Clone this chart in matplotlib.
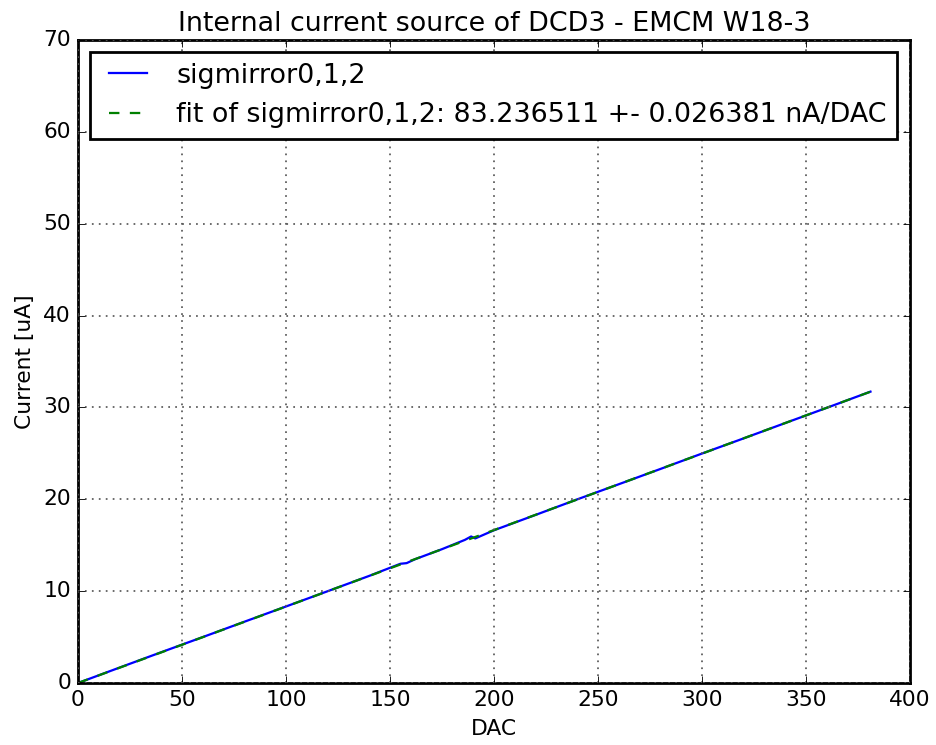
import numpy as np
import matplotlib
matplotlib.use("Agg")
import matplotlib.pyplot as plt

# Measured DCD3 current-source scan (sampled along the DAC range)
dac_meas = [0, 20, 40, 60, 80, 100, 120, 140, 155, 158, 162, 175, 186, 189, 191,
            200, 220, 240, 260, 280, 300, 320, 340, 360, 381]
current_meas = [0.0, 1.68, 3.35, 5.00, 6.67, 8.33, 9.99, 11.66, 12.98, 13.05, 13.47,
                14.57, 15.58, 15.95, 15.74, 16.63, 18.30, 19.99, 21.64, 23.30,
                24.98, 26.63, 28.30, 29.96, 31.72]

# Linear fit result
fit_slope_nA = 83.236511
fit_slope_err_nA = 0.026381
fit_offset_uA = 0.0
fit_dac_range = [0, 381]

series_name = "sigmirror0,1,2"

plt.style.use("classic")
plt.rcParams["font.family"] = ["DejaVu Sans"]

dpi = 125
fig = plt.figure(figsize=(936 / dpi, 745 / dpi), dpi=dpi, facecolor="white")
ax = fig.add_axes([78 / 936, 1 - 683 / 745, (910 - 78) / 936, (683 - 40) / 745])
ax.set_facecolor("white")

ax.plot(dac_meas, current_meas, "b-", lw=1.3, label=series_name)
fit_x = np.array(fit_dac_range, dtype=float)
fit_y = fit_offset_uA + fit_slope_nA * 1e-3 * fit_x
ax.plot(fit_x, fit_y, "g--", lw=1.3,
        label="fit of %s: %f +- %f nA/DAC" % (series_name, fit_slope_nA, fit_slope_err_nA))

ax.set_xlim(0, 400)
ax.set_ylim(0, 70)
ax.set_xticks(np.arange(0, 401, 50))
ax.set_yticks(np.arange(0, 71, 10))
ax.tick_params(labelsize=12.5)
ax.grid(True, color="0.35", linestyle=":", linewidth=1.0)
for s in ax.spines.values():
    s.set_linewidth(1.6)

ax.set_title("Internal current source of DCD3 - EMCM W18-3", fontsize=15.5)
ax.set_xlabel("DAC", fontsize=12.5)
ax.set_ylabel("Current [uA]", fontsize=12.5)

leg = ax.legend(loc="upper left", fontsize=15.5, borderaxespad=0.45)
leg.get_frame().set_linewidth(1.6)

fig.savefig("out.png", dpi=dpi, facecolor="white")
